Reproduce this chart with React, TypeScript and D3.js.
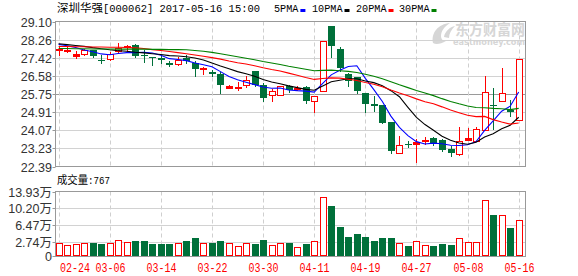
import React from "react";
import * as d3 from "d3";

// ---- data ----
const dates = [
  "02-24","02-27","02-28","03-01","03-02","03-03","03-06","03-07","03-08","03-09",
  "03-10","03-13","03-14","03-15","03-16","03-17","03-20","03-21","03-22","03-23",
  "03-24","03-27","03-28","03-29","03-30","03-31","04-05","04-06","04-07","04-10",
  "04-11","04-12","04-13","04-14","04-17","04-18","04-19","04-20","04-21","04-24",
  "04-25","04-26","04-27","04-28","05-02","05-03","05-04","05-05","05-08","05-09",
  "05-10","05-11","05-12","05-15","05-16",
];
const openP = [
  27.82,27.76,27.51,27.60,27.76,27.34,27.37,27.73,27.93,27.99,
  27.57,27.45,27.39,27.17,27.14,27.40,27.19,26.89,26.74,26.68,
  26.03,26.03,26.17,26.79,26.14,25.72,25.72,26.12,26.00,26.09,
  25.43,25.88,28.87,27.85,26.68,26.52,25.78,25.26,25.25,24.44,
  23.02,23.44,23.42,23.59,23.69,23.63,23.22,22.96,23.63,23.58,
  24.06,25.25,25.40,25.01,24.55,
];
const highP = [
  27.90,27.91,27.73,27.84,27.79,27.53,27.68,28.11,28.02,28.04,
  27.76,27.47,27.53,27.26,27.47,27.53,27.26,26.99,26.87,26.75,
  26.14,26.31,26.60,26.80,26.25,25.98,26.12,26.17,26.11,26.11,
  25.66,28.21,28.87,27.91,26.71,26.55,25.78,25.63,25.25,24.44,
  23.78,23.56,23.67,23.75,23.75,23.67,23.32,24.24,24.19,24.21,
  26.60,26.03,26.96,25.48,27.37,
];
const lowP = [
  27.53,27.68,27.42,27.53,27.45,27.17,27.32,27.65,27.68,27.47,
  27.22,27.10,27.17,27.04,27.11,27.17,26.57,26.68,26.57,25.78,
  26.02,25.95,26.06,26.11,25.40,25.44,25.71,25.86,25.91,25.35,
  24.90,25.88,27.45,26.83,26.11,25.78,24.90,24.95,24.39,23.01,
  23.02,23.28,22.59,23.44,23.39,23.13,22.87,22.93,23.63,23.55,
  24.06,24.13,25.40,24.75,24.55,
];
const closeP = [
  27.84,27.80,27.60,27.76,27.49,27.31,27.60,27.88,27.95,27.49,
  27.51,27.42,27.30,27.08,27.33,27.25,26.91,26.93,26.68,26.17,
  26.12,26.08,26.40,26.14,25.55,25.89,26.12,25.94,26.02,25.41,
  25.66,28.21,27.96,26.94,26.34,25.87,25.29,25.21,24.39,23.10,
  23.39,23.41,23.51,23.63,23.50,23.16,23.01,23.55,23.72,24.13,
  25.85,25.17,25.81,24.92,27.37,
];
// volume in 万
const volume = [
  2.51,2.07,2.29,2.51,2.36,2.14,2.51,3.18,2.74,2.80,
  2.80,2.14,2.14,2.14,2.51,2.80,3.47,2.51,2.36,2.80,
  2.51,1.85,2.51,2.14,3.03,2.07,2.51,2.36,1.62,2.14,
  2.96,12.75,10.59,5.92,3.69,4.36,3.69,2.80,3.47,3.47,
  2.51,1.69,2.96,2.07,1.69,2.14,1.91,3.63,2.74,2.74,
  12.08,8.59,8.75,5.70,7.67,
];
const ma5 = [
  28.04,27.98,27.90,27.78,27.70,27.60,27.56,27.62,27.66,27.66,
  27.68,27.64,27.54,27.38,27.34,27.29,27.18,27.10,27.01,26.78,
  26.56,26.40,26.29,26.18,26.07,26.01,26.02,25.93,25.90,25.88,
  25.83,26.24,26.63,26.84,27.02,27.05,26.47,25.95,25.40,24.72,
  24.20,23.82,23.54,23.43,23.47,23.44,23.37,23.36,23.40,23.54,
  24.06,24.50,24.95,25.18,25.84,
];
const ma10 = [
  28.07,28.03,27.99,27.95,27.89,27.84,27.79,27.75,27.72,27.68,
  27.65,27.61,27.57,27.52,27.50,27.47,27.41,27.32,27.18,27.04,
  26.91,26.78,26.68,26.57,26.42,26.30,26.22,26.12,26.04,25.96,
  25.92,26.11,26.31,26.38,26.45,26.45,26.35,26.27,26.13,25.90,
  25.62,25.13,24.66,24.33,24.07,23.79,23.60,23.48,23.42,23.51,
  23.75,23.91,24.14,24.30,24.67,
];
const ma20 = [
  27.94,27.94,27.93,27.93,27.92,27.92,27.91,27.91,27.90,27.88,
  27.85,27.80,27.76,27.71,27.66,27.61,27.55,27.49,27.43,27.36,
  27.27,27.19,27.13,27.05,26.96,26.88,26.81,26.71,26.61,26.51,
  26.42,26.46,26.49,26.48,26.43,26.37,26.28,26.20,26.08,25.93,
  25.79,25.66,25.52,25.39,25.29,25.15,25.00,24.88,24.76,24.70,
  24.71,24.56,24.45,24.35,24.40,
];
const ma30 = [
  27.85,27.85,27.84,27.84,27.83,27.83,27.83,27.82,27.82,27.82,
  27.82,27.81,27.81,27.80,27.80,27.79,27.76,27.72,27.67,27.61,
  27.54,27.47,27.40,27.33,27.25,27.18,27.11,27.03,26.96,26.89,
  26.82,26.84,26.85,26.82,26.79,26.74,26.66,26.57,26.45,26.31,
  26.17,26.04,25.91,25.79,25.67,25.53,25.40,25.29,25.19,25.12,
  25.11,25.08,25.06,25.02,25.08,
];
const priceTicks = ["29.10","28.26","27.42","26.58","25.75","24.91","24.07","23.23","22.39"];
const volTickLabels = ["13.93万","10.20万","6.47万","2.74万","0"];
const volTickValues = [13.93, 10.20, 6.47, 2.74, 0];
const labelDates = ["02-24","03-06","03-14","03-22","03-30","04-11","04-19","04-27","05-08","05-16"];
const titleName = "深圳华强";
const titleRest = "[000062] 2017-05-16 15:00";
const legendNames = ["5PMA","10PMA","20PMA","30PMA"];
const volumeTitle = "成交量";
const volumeValue = ":767";

// ---- styling ----
const RED = "#ff0000";
const GREEN = "#00703a";
const MA_COLORS = ["#0000ff", "#000000", "#ff0000", "#008000"];
const GRID = "#d2d2d2";
const BORDER = "#999999";
const MONO = "'Liberation Mono', 'DejaVu Sans Mono', monospace";
const CJK = "'Noto Sans CJK SC', sans-serif";
const SANS = "'Liberation Sans', Arial, 'Noto Sans CJK SC', sans-serif";

const W = 578, H = 276;
const PL = 55.5, PR = 525.5, PT = 21.5, PB = 166.5;
const VT = 191.5, VB = 256.5;

export default function App() {
  const x = d3.scalePoint<string>().domain(dates).range([58.6, 518.7]);
  const y = d3.scaleLinear().domain([22.39, 29.1]).range([PB, PT]);
  const yv = d3.scaleLinear().domain([0, 13.93]).range([254, VT]);
  const cxOf = (d: string) => Math.round(x(d) as number);

  const mas = [ma5, ma10, ma20, ma30];
  const lineGen = (arr: number[]) =>
    d3.line<number>().x((_, i) => x(dates[i]) as number).y((v) => y(v))(arr) || "";

  const legendX = [274, 312, 356, 399];

  return (
    <svg width={W} height={H} style={{ position: "fixed", left: 0, top: 0, background: "#fff" }}>
      <rect x={0} y={0} width={W} height={H} fill="#fff" />
      {/* title */}
      <text x={57} y={12} fontFamily={CJK} fontSize={11.5} textLength={46} lengthAdjust="spacingAndGlyphs" fill="#000">{titleName}</text>
      <text x={103} y={12} fontFamily={MONO} fontSize={11} textLength={157} lengthAdjust="spacingAndGlyphs" fill="#000">{titleRest}</text>
      {legendNames.map((n, i) => {
        const w = n.length * 6.1;
        return (
          <g key={n}>
            <text x={legendX[i]} y={12} fontFamily={MONO} fontSize={11} textLength={w} lengthAdjust="spacingAndGlyphs" fill="#000">{n}</text>
            <rect x={legendX[i] + w + 2} y={9} width={5} height={3} fill={MA_COLORS[i]} />
          </g>
        );
      })}

      {/* watermark */}
      <g fill="#d6d6d6">
        <path d="M433,43 C431,33 438,24 450,23 C444,27 441,31 441,36 C441,39 443,41 446,41 C441,44 436,45 433,43 Z" />
        <path d="M444,37 C445,31 450,27 455,26 C451,30 449,34 449,38 Z" />
        <text x={455} y={35} fontFamily={CJK} fontSize={14.5} fontWeight="bold" textLength={70} lengthAdjust="spacingAndGlyphs">东方财富网</text>
        <text x={453} y={45} fontFamily="'DejaVu Sans', sans-serif" fontSize={8} fontWeight="bold" textLength={72} lengthAdjust="spacingAndGlyphs">eastmoney.com</text>
      </g>

      {/* price grid */}
      {priceTicks.map((t, i) => {
        const yy = Math.round(y(+t)) + 0.5;
        if (i === 0 || i === priceTicks.length - 1) return null;
        return <line key={t} x1={PL} x2={PR} y1={yy} y2={yy} stroke={t === "25.75" ? "#9a9a9a" : GRID} strokeWidth={1} />;
      })}
      {labelDates.map((d) => {
        const xx = cxOf(d) + 0.5;
        return (
          <g key={d}>
            <line x1={xx} x2={xx} y1={PT} y2={PB} stroke="#cfcfcf" strokeDasharray="4,3" />
            <line x1={xx} x2={xx} y1={VT} y2={VB} stroke="#cfcfcf" strokeDasharray="4,3" />
          </g>
        );
      })}
      {/* volume grid */}
      {volTickValues.slice(1, 4).map((v) => {
        const yy = Math.round(yv(v)) + 0.5;
        return <line key={v} x1={PL} x2={PR} y1={yy} y2={yy} stroke={GRID} />;
      })}

      {/* candles */}
      {dates.map((d, i) => {
        const cx = cxOf(d);
        const o = openP[i], c = closeP[i], h = highP[i], l = lowP[i];
        const up = c >= o;
        const top = Math.round(y(Math.max(o, c)));
        const bot = Math.round(y(Math.min(o, c)));
        const yh = Math.round(y(h));
        const yl = Math.round(y(l));
        if (up) {
          const hgt = Math.max(bot - top, 1);
          return (
            <g key={d}>
              {yh < top && <line x1={cx + 0.5} x2={cx + 0.5} y1={yh} y2={top} stroke={RED} />}
              {yl > top + hgt && <line x1={cx + 0.5} x2={cx + 0.5} y1={top + hgt} y2={yl + 1} stroke={RED} />}
              {hgt <= 2 ? (
                <rect x={cx - 3} y={top} width={7} height={hgt + 1} fill={RED} />
              ) : (
                <rect x={cx - 2.5} y={top + 0.5} width={6} height={hgt} fill="#fff" stroke={RED} />
              )}
            </g>
          );
        }
        return (
          <g key={d}>
            <line x1={cx + 0.5} x2={cx + 0.5} y1={yh} y2={yl + 1} stroke={GREEN} />
            <rect x={cx - 3} y={top} width={7} height={Math.max(bot - top, 1)} fill={GREEN} />
          </g>
        );
      })}

      {/* moving averages */}
      {mas.map((arr, k) => (
        <path key={k} d={lineGen(arr)} fill="none" stroke={MA_COLORS[k]} strokeWidth={1.1} />
      ))}

      {/* volume bars */}
      {dates.map((d, i) => {
        const cx = cxOf(d);
        const up = closeP[i] >= openP[i];
        const top = Math.round(yv(volume[i]));
        if (up) {
          return <rect key={d} x={cx - 2.5} y={top + 0.5} width={6} height={VB - 1 - (top + 0.5)} fill="#fff" stroke={RED} />;
        }
        return <rect key={d} x={cx - 3} y={top} width={7} height={VB - top} fill={GREEN} />;
      })}

      {/* frames */}
      <rect x={PL} y={PT} width={PR - PL} height={PB - PT} fill="none" stroke={BORDER} />
      <rect x={PL} y={VT} width={PR - PL} height={VB - VT} fill="none" stroke={BORDER} />

      {/* price axis */}
      {priceTicks.map((t) => {
        const yy = Math.round(y(+t)) + 0.5;
        return (
          <g key={t}>
            <line x1={PL - 3} x2={PL} y1={yy} y2={yy} stroke={BORDER} />
            <text x={52} y={yy + 4.5} textAnchor="end" fontFamily={SANS} fontSize={12.5} fill="#333">{t}</text>
          </g>
        );
      })}
      {/* volume axis */}
      {volTickValues.map((v, i) => {
        const yy = i === 4 ? VB : Math.round(yv(v)) + 0.5;
        return (
          <g key={v}>
            <line x1={PL - 3} x2={PL} y1={yy} y2={yy} stroke={BORDER} />
            <text x={52} y={yy + 4.5} textAnchor="end" fontFamily={SANS} fontSize={12.5} fill="#333">{volTickLabels[i]}</text>
          </g>
        );
      })}

      {/* volume title */}
      <text x={57} y={184} fontFamily={CJK} fontSize={11} textLength={31} lengthAdjust="spacingAndGlyphs" fill="#000">{volumeTitle}</text>
      <text x={88} y={184} fontFamily={MONO} fontSize={11} textLength={22} lengthAdjust="spacingAndGlyphs" fill="#000">{volumeValue}</text>

      {/* date labels */}
      {labelDates.map((d, i) => {
        const cx = i === 0 ? 75 : cxOf(d) + 0.5;
        return (
          <text key={d} x={cx - 15} y={271.5} fontFamily={MONO} fontSize={13} textLength={30} lengthAdjust="spacingAndGlyphs" fill={RED}>{d}</text>
        );
      })}
    </svg>
  );
}
